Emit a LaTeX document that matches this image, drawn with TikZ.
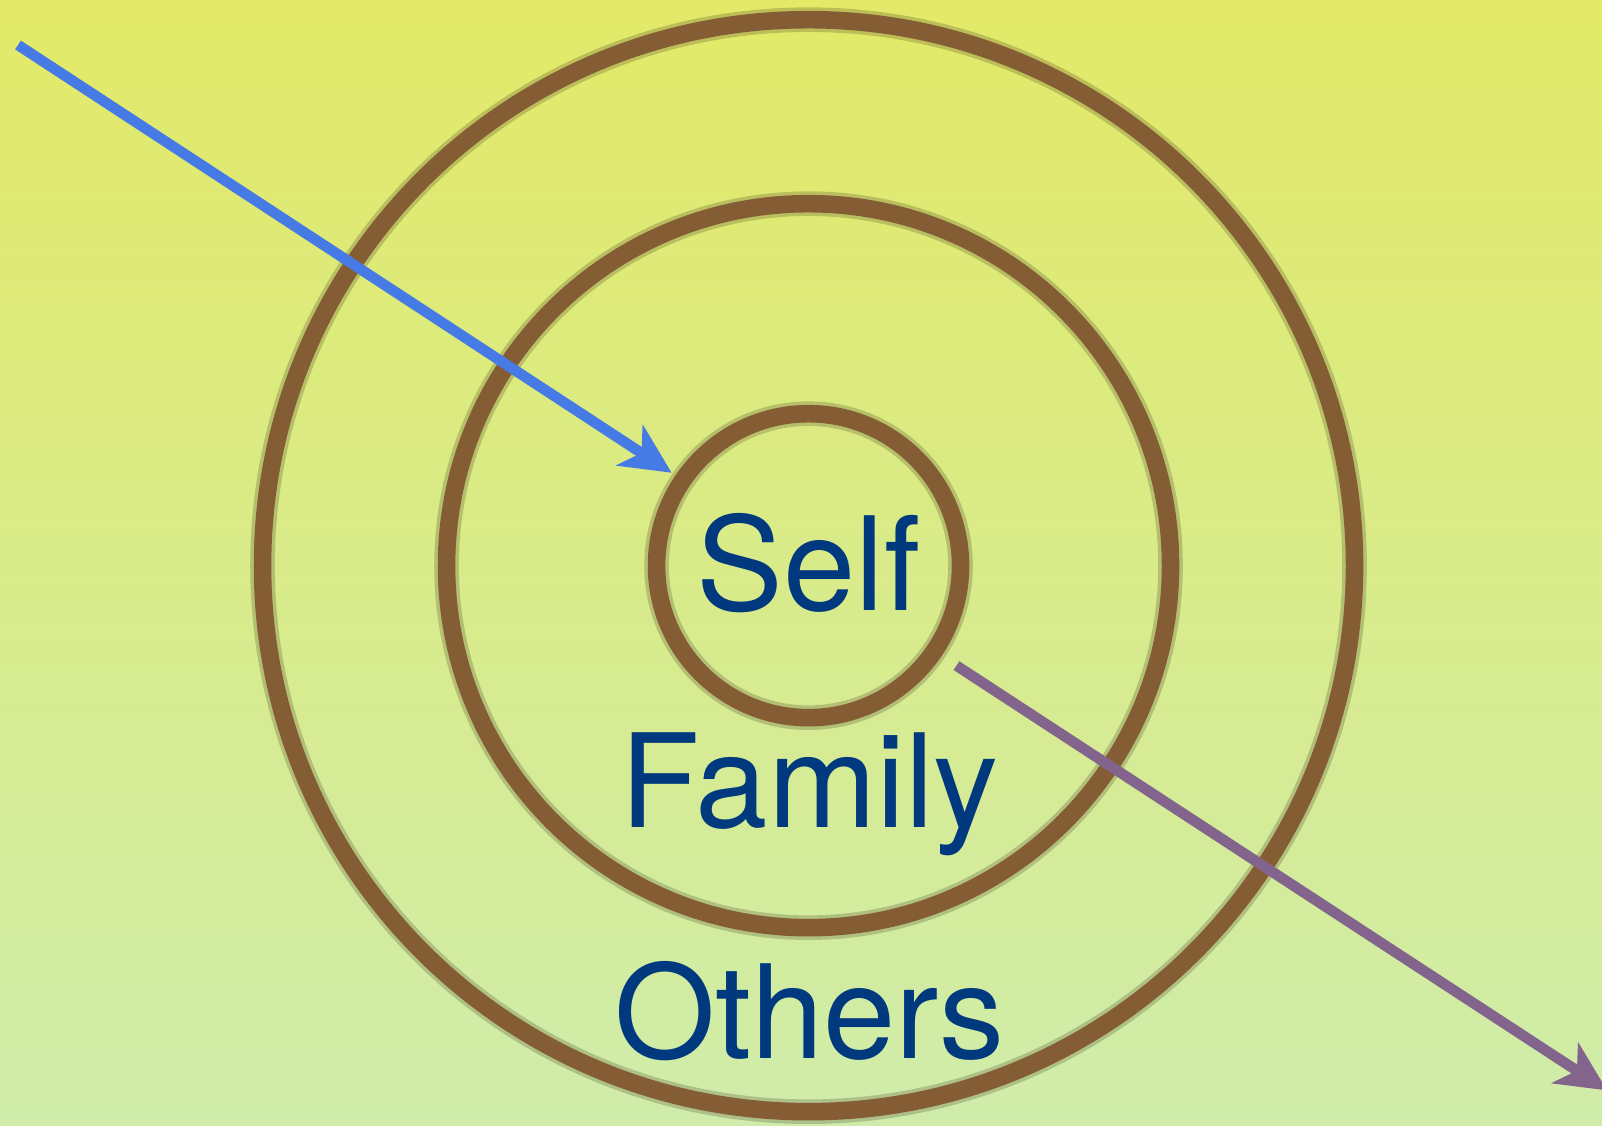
\documentclass[tikz,border=0pt]{standalone}
\usepackage{fontspec}
\setmainfont{TeX Gyre Heros}
\usetikzlibrary{arrows.meta}
\definecolor{RingBrown}{RGB}{133,93,52}
\definecolor{ArrowBlue}{RGB}{70,122,228}
\definecolor{ArrowPurple}{RGB}{131,100,140}
\definecolor{WordBlue}{RGB}{0,57,125}
\definecolor{TopYellow}{RGB}{227,234,104}
\definecolor{BottomGreen}{RGB}{207,236,170}
\tikzset{
  ring/.style={circle,draw=RingBrown,line width=5pt,inner sep=0pt,minimum size=#1},
  ringshade/.style={circle,draw=black!60!RingBrown,draw opacity=0.22,line width=7pt,inner sep=0pt,minimum size=#1},
  word/.style={anchor=base,text=WordBlue,font=\fontsize{37}{42}\selectfont},
  bluearrow/.style={draw=ArrowBlue,line width=3pt,
    -{Stealth[length=0.5cm,width=0.48cm,inset=0.14cm]}},
  purplearrow/.style={draw=ArrowPurple,line width=3pt,
    -{Stealth[length=0.5cm,width=0.48cm,inset=0.14cm]}},
}
\begin{document}
\begin{tikzpicture}[x=0.01cm,y=-0.01cm]
  \shade[top color=TopYellow,bottom color=BottomGreen]
    (0cm,0cm) rectangle (16.02cm,-11.25cm);
  \useasboundingbox (0cm,0cm) rectangle (16.02cm,-11.25cm);

  \coordinate (centre) at (809,566);
  \foreach \name/\d in {others/10.92cm,family/7.24cm,self/3.04cm}{
    \node[ringshade=\d] at (centre) {};
    \node[ring=\d] (\name) at (centre) {};
  }

  \node[word] (selfword) at (809,611) {Self};
  \node[word] (familyword) at (810,828) {Family};
  \node[word] (othersword) at (810,1059) {Others};

  \coordinate (inStart) at (18,45);
  \coordinate (inEnd) at (672,473);
  \coordinate (outStart) at (957,666);
  \coordinate (outEnd) at (1608,1091);
  \draw[bluearrow] (inStart) -- (inEnd);
  \draw[purplearrow] (outStart) -- (outEnd);
\end{tikzpicture}
\end{document}
